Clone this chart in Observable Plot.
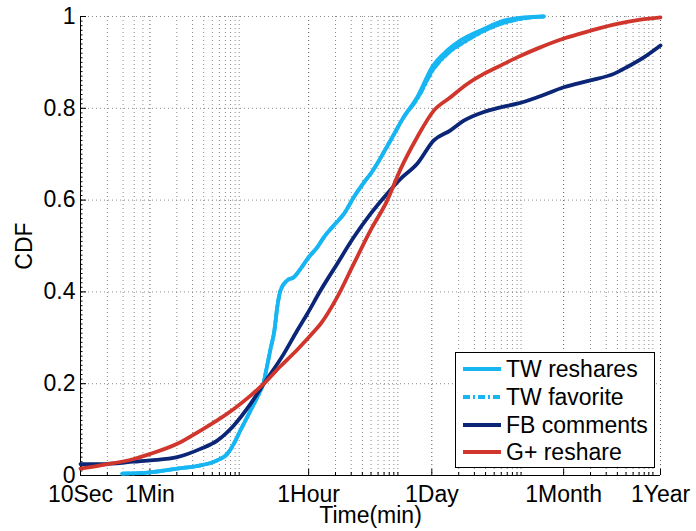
<!DOCTYPE html>
<html><head><meta charset="utf-8">
<script src="https://cdn.jsdelivr.net/npm/d3@7"></script>
<script src="https://cdn.jsdelivr.net/npm/@observablehq/plot@0.6"></script>
<style>
body{margin:0;background:#fff;}
#wrap{position:relative;width:696px;height:531px;font-family:"Liberation Sans",Arial,Helvetica,sans-serif;}
#legend{position:absolute;left:455px;top:352px;width:200px;height:116px;border:1px solid #000;background:#fff;box-sizing:border-box;}
.row{position:absolute;left:0;height:28px;width:196px;font-size:23px;line-height:28px;white-space:nowrap;color:#000;}
.row svg{position:absolute;left:7px;top:0;}
.row span{position:absolute;left:50px;top:0;}
</style></head>
<body><div id="wrap"></div>
<script>
// ---- axis ticks (minutes) ----
const tickMinutes = [1/6, 1, 60, 1440, 43200, 525600];
const tickLabels = ["10Sec", "1Min", "1Hour", "1Day", "1Month", "1Year"];
const minorMultipliers = [2, 3, 4, 5, 6, 7, 8, 9, 10];
const yTicks = [0, 0.2, 0.4, 0.6, 0.8, 1];

// ---- series: TW reshares ----
const twResharesMin = [0.49,1.01,2.02,3.68,5.67,7.34,8.7,10.3,12.3,14.6,17.3,18.6,20.6,22.4,24.8,26.7,29.0,34.5,40.9,48.6,60.3,74.8,88.7,115,149,192,260,296,496,699,987,1453,2141,3017,5503,9222,15450,25880];
const twResharesCdf = [0.004,0.007,0.015,0.022,0.033,0.047,0.069,0.098,0.127,0.156,0.185,0.2,0.24,0.275,0.316,0.367,0.403,0.425,0.432,0.45,0.476,0.497,0.519,0.545,0.57,0.606,0.643,0.657,0.73,0.781,0.824,0.89,0.926,0.948,0.973,0.991,0.998,1.0];

// ---- series: TW favorite ----
const twFavoriteMin = [0.49,1.01,2.02,3.68,5.67,7.34,8.7,10.3,12.3,14.6,17.3,18.6,20.6,22.4,24.8,26.7,29.0,34.5,40.9,48.6,60.3,74.8,88.7,115,149,192,260,296,496,699,987,1515,2141,3587,6541,13030,21830,25880];
const twFavoriteCdf = [0.004,0.007,0.015,0.022,0.033,0.047,0.069,0.098,0.127,0.156,0.185,0.2,0.24,0.275,0.316,0.367,0.403,0.425,0.432,0.45,0.476,0.497,0.519,0.545,0.57,0.606,0.643,0.657,0.73,0.781,0.82,0.886,0.918,0.948,0.975,0.993,0.999,1.0];

// ---- series: FB comments ----
const fbCommentsMin = [0.1667,0.279,0.659,1.01,2.02,3.68,5.67,8.7,13.4,18.9,31.6,44.7,57.8,81.5,125,192,296,455,641,987,1515,2330,3286,5503,8466,13030,21830,43360,86300,157400,222400,341600,525600];
const fbCommentsCdf = [0.025,0.025,0.03,0.033,0.04,0.058,0.076,0.109,0.156,0.2,0.265,0.316,0.352,0.403,0.461,0.519,0.57,0.614,0.646,0.679,0.73,0.752,0.773,0.792,0.802,0.81,0.824,0.846,0.861,0.875,0.89,0.911,0.937];

// ---- series: G+ reshare ----
const gplusMin = [0.1667,0.279,0.659,1.01,2.02,3.68,5.67,8.7,13.4,18.9,29.0,44.7,68.5,81.5,125,192,296,455,641,987,1515,2330,3587,5503,8466,13030,21830,43360,86300,171900,313500,525600];
const gplusCdf = [0.015,0.022,0.036,0.047,0.069,0.098,0.12,0.145,0.174,0.2,0.238,0.274,0.313,0.33,0.388,0.461,0.534,0.599,0.667,0.737,0.795,0.824,0.853,0.875,0.893,0.911,0.93,0.952,0.969,0.984,0.993,0.998];

const seriesNames = ["TW reshares", "TW favorite", "FB comments", "G+ reshare"];
const seriesColors = ["#17b6f3", "#17b6f3", "#0b2676", "#d1362d"];
const seriesDash = [null, "7,3,2,3", null, null];

const toRows = (ms, ps) => ms.map((m, i) => ({m, p: ps[i]}));
const seriesData = [
  toRows(twResharesMin, twResharesCdf),
  toRows(twFavoriteMin, twFavoriteCdf),
  toRows(fbCommentsMin, fbCommentsCdf),
  toRows(gplusMin, gplusCdf)
];

// minor grid: multiples of each major tick up to the next major tick
const minorGrid = [];
tickMinutes.slice(0, -1).forEach((t, i) => {
  minorMultipliers.forEach(k => { if (t * k < tickMinutes[i + 1] * 0.999) minorGrid.push(t * k); });
});
const yMinor = d3.range(0, 1.0001, 0.01);
const x0 = tickMinutes[0];

const lineMarks = seriesData.map((d, i) => Plot.line(d, {
  x: "m", y: "p", stroke: seriesColors[i], strokeWidth: 3.8,
  strokeDasharray: seriesDash[i] || undefined, curve: "monotone-x"
}));

const chart = Plot.plot({
  width: 696, height: 531,
  marginLeft: 80, marginRight: 36, marginTop: 16, marginBottom: 56,
  style: {fontFamily: "'Liberation Sans', Arial, Helvetica, sans-serif", fontSize: "23px", color: "#000", background: "#fff"},
  x: {type: "log", domain: [tickMinutes[0], tickMinutes[tickMinutes.length - 1]]},
  y: {domain: [0, 1]},
  marks: [
    Plot.ruleX(minorGrid, {stroke: "#8a8a8a", strokeDasharray: "1,3"}),
    Plot.ruleX(tickMinutes.slice(1), {stroke: "#555", strokeDasharray: "1,3"}),
    Plot.ruleY(yTicks.slice(1), {stroke: "#8a8a8a", strokeDasharray: "1,3"}),
    Plot.ruleX([x0], {stroke: "#000", strokeWidth: 1}),
    Plot.ruleY([0], {stroke: "#000", strokeWidth: 1}),
    Plot.ruleX(tickMinutes, {y1: 0, y2: 0, insetTop: -6, stroke: "#000"}),
    Plot.ruleX(minorGrid, {y1: 0, y2: 0, insetTop: -3, stroke: "#000"}),
    Plot.ruleY(yTicks, {x1: x0, x2: x0, insetRight: -6, stroke: "#000"}),
    Plot.ruleY(yMinor, {x1: x0, x2: x0, insetRight: -2.5, stroke: "#000"}),
    Plot.axisX({ticks: tickMinutes, text: d => tickLabels[tickMinutes.indexOf(d)], tickSize: 0, tickPadding: 10, fontSize: 23,
      label: "Time(min)", labelAnchor: "center", labelArrow: "none", labelOffset: 47}),
    Plot.axisY({ticks: yTicks, tickFormat: d => String(d), tickSize: 0, tickPadding: 5, fontSize: 23,
      label: "CDF", labelAnchor: "center", labelArrow: "none", labelOffset: 65}),
    ...lineMarks
  ]
});

const wrap = document.getElementById("wrap");
wrap.appendChild(chart);

const legend = document.createElement("div");
legend.id = "legend";
seriesNames.forEach((name, i) => {
  const row = document.createElement("div");
  row.className = "row";
  row.style.top = (2 + i * 27.8) + "px";
  const dash = seriesDash[i] ? ` stroke-dasharray="${seriesDash[i]}"` : "";
  row.innerHTML = `<svg width="40" height="28"><line x1="0" x2="38" y1="14" y2="14" stroke="${seriesColors[i]}" stroke-width="3.8"${dash}/></svg><span>${name}</span>`;
  legend.appendChild(row);
});
wrap.appendChild(legend);
</script></body></html>
